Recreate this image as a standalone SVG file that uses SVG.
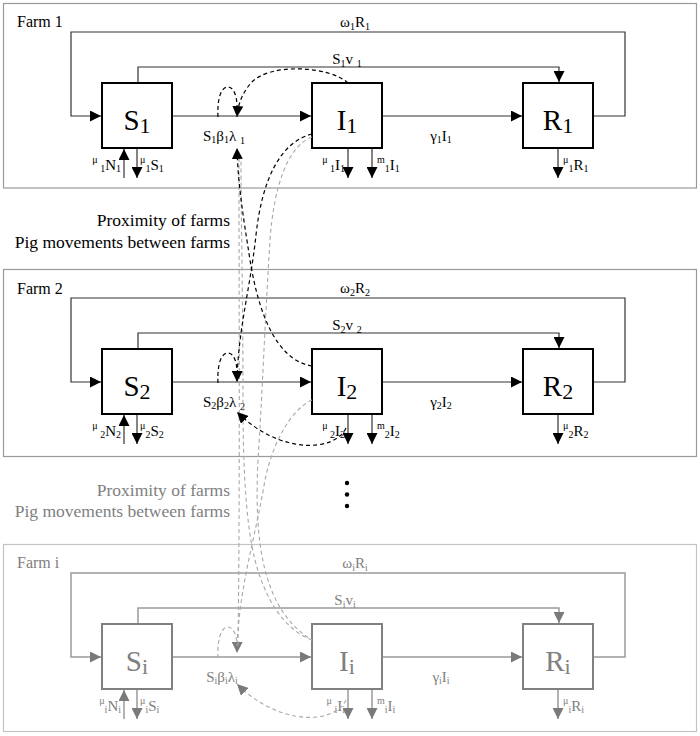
<svg xmlns="http://www.w3.org/2000/svg" width="700" height="736" viewBox="0 0 700 736">
<style>
text{font-family:"Liberation Serif","Times New Roman",serif;}
.farm{fill:none;stroke:#9a9a9a;stroke-width:1.2}
.farmi{fill:none;stroke:#c4c4c4;stroke-width:1.2}
.flbl{font-size:16px;fill:#000}
.box{fill:#fff;stroke:#000;stroke-width:2}
.boxg{fill:#fff;stroke:#808080;stroke-width:2}
.big{font-size:29px;text-anchor:middle}
.conn path,.conn line{fill:none;stroke:#333;stroke-width:1.2}
.conng path,.conng line{fill:none;stroke:#9a9a9a;stroke-width:1.5}
.lbl{font-size:15px;fill:#000}
.g{fill:#808080}
.s{font-size:10px}
.bs{font-size:22px}
.dash{fill:none;stroke:#000;stroke-width:1.2;stroke-dasharray:4,3}
.dashg{fill:none;stroke:#a8a8a8;stroke-width:1.1;stroke-dasharray:4,3}
.mid{font-size:17.5px;text-anchor:end}
</style>
<defs>
<marker id="ab" viewBox="0 0 10 10" refX="10" refY="5" markerWidth="11" markerHeight="11" markerUnits="userSpaceOnUse" orient="auto"><path d="M0,0L10,5L0,10z" fill="#000"/></marker>
<marker id="ag" viewBox="0 0 10 10" refX="10" refY="5" markerWidth="11" markerHeight="11" markerUnits="userSpaceOnUse" orient="auto"><path d="M0,0L10,5L0,10z" fill="#7a7a7a"/></marker>
</defs>
<rect width="700" height="736" fill="#fff"/>

<!-- Farm 1 -->
<g id="farm1">
<rect class="farm" x="3.5" y="3.5" width="693" height="184.5"/>
<text class="flbl" x="17" y="27">Farm 1</text>
<g id="farm1-connectors" class="conn">
<path d="M593,116H625V32H71V116H101" marker-end="url(#ab)"/>
<path d="M138,83V67H559V82" marker-end="url(#ab)"/>
<path d="M172,116H311" marker-end="url(#ab)"/>
<path d="M382,116H522" marker-end="url(#ab)"/>
<path d="M124,178V149" marker-end="url(#ab)"/>
<path d="M137,148V178" marker-end="url(#ab)"/>
<path d="M348,148V178" marker-end="url(#ab)"/>
<path d="M372,148V178" marker-end="url(#ab)"/>
<path d="M558,148V178" marker-end="url(#ab)"/>
<text class="lbl" x="355" y="27" text-anchor="middle">ω<tspan class="s" dy="3">1</tspan><tspan dy="-3">R</tspan><tspan class="s" dy="3">1</tspan></text>
<text class="lbl" x="347" y="64" text-anchor="middle">S<tspan class="s" dy="3">1</tspan><tspan dy="-3">v </tspan><tspan class="s" dy="3">1</tspan></text>
<text class="lbl" x="224" y="141" text-anchor="middle">S<tspan class="s" dy="2">1</tspan><tspan dy="-2">β</tspan><tspan class="s" dy="2">1</tspan><tspan dy="-2">λ </tspan><tspan class="s" dy="3">1</tspan></text>
<text class="lbl" x="441" y="141" text-anchor="middle">γ<tspan class="s" dy="2">1</tspan><tspan dy="-2">I</tspan><tspan class="s" dy="2">1</tspan></text>
<text class="lbl" x="121" y="170" text-anchor="end"><tspan class="s" dy="-7">μ</tspan><tspan class="s" dy="9"> 1</tspan><tspan dy="-2">N</tspan><tspan class="s" dy="2">1</tspan></text>
<text class="lbl" x="140" y="170"><tspan class="s" dy="-7">μ</tspan><tspan class="s" dy="9">1</tspan><tspan dy="-2">S</tspan><tspan class="s" dy="2">1</tspan></text>
<text class="lbl" x="345" y="170" text-anchor="end"><tspan class="s" dy="-7">μ</tspan><tspan class="s" dy="9"> 1</tspan><tspan dy="-2">I</tspan><tspan class="s" dy="2">1</tspan></text>
<text class="lbl" x="377" y="170"><tspan class="s" dy="-7">m</tspan><tspan class="s" dy="9">1</tspan><tspan dy="-2">I</tspan><tspan class="s" dy="2">1</tspan></text>
<text class="lbl" x="563" y="170"><tspan class="s" dy="-7">μ</tspan><tspan class="s" dy="9">1</tspan><tspan dy="-2">R</tspan><tspan class="s" dy="2">1</tspan></text>
</g>
<g id="S1"><rect class="box" x="102" y="83" width="70" height="65"/><text class="big" x="137" y="130">S<tspan class="bs" dy="3">1</tspan></text></g>
<g id="I1"><rect class="box" x="312" y="83" width="70" height="65"/><text class="big" x="347" y="130">I<tspan class="bs" dy="3">1</tspan></text></g>
<g id="R1"><rect class="box" x="523" y="83" width="70" height="65"/><text class="big" x="558" y="130">R<tspan class="bs" dy="3">1</tspan></text></g>
</g>

<!-- Farm 2 -->
<g id="farm2" transform="translate(0,266)">
<rect class="farm" x="3.5" y="3.5" width="693" height="187"/>
<text class="flbl" x="17" y="28">Farm 2</text>
<g id="farm2-connectors" class="conn">
<path d="M593,116H625V32H71V116H101" marker-end="url(#ab)"/>
<path d="M138,83V67H559V82" marker-end="url(#ab)"/>
<path d="M172,116H311" marker-end="url(#ab)"/>
<path d="M382,116H522" marker-end="url(#ab)"/>
<path d="M124,178V149" marker-end="url(#ab)"/>
<path d="M137,148V178" marker-end="url(#ab)"/>
<path d="M348,148V178" marker-end="url(#ab)"/>
<path d="M372,148V178" marker-end="url(#ab)"/>
<path d="M558,148V178" marker-end="url(#ab)"/>
<text class="lbl" x="355" y="27" text-anchor="middle">ω<tspan class="s" dy="3">2</tspan><tspan dy="-3">R</tspan><tspan class="s" dy="3">2</tspan></text>
<text class="lbl" x="347" y="64" text-anchor="middle">S<tspan class="s" dy="3">2</tspan><tspan dy="-3">v </tspan><tspan class="s" dy="3">2</tspan></text>
<text class="lbl" x="224" y="141" text-anchor="middle">S<tspan class="s" dy="2">2</tspan><tspan dy="-2">β</tspan><tspan class="s" dy="2">2</tspan><tspan dy="-2">λ </tspan><tspan class="s" dy="3">2</tspan></text>
<text class="lbl" x="441" y="141" text-anchor="middle">γ<tspan class="s" dy="2">2</tspan><tspan dy="-2">I</tspan><tspan class="s" dy="2">2</tspan></text>
<text class="lbl" x="121" y="170" text-anchor="end"><tspan class="s" dy="-7">μ</tspan><tspan class="s" dy="9"> 2</tspan><tspan dy="-2">N</tspan><tspan class="s" dy="2">2</tspan></text>
<text class="lbl" x="140" y="170"><tspan class="s" dy="-7">μ</tspan><tspan class="s" dy="9">2</tspan><tspan dy="-2">S</tspan><tspan class="s" dy="2">2</tspan></text>
<text class="lbl" x="345" y="170" text-anchor="end"><tspan class="s" dy="-7">μ</tspan><tspan class="s" dy="9"> 2</tspan><tspan dy="-2">I</tspan><tspan class="s" dy="2">2</tspan></text>
<text class="lbl" x="377" y="170"><tspan class="s" dy="-7">m</tspan><tspan class="s" dy="9">2</tspan><tspan dy="-2">I</tspan><tspan class="s" dy="2">2</tspan></text>
<text class="lbl" x="563" y="170"><tspan class="s" dy="-7">μ</tspan><tspan class="s" dy="9">2</tspan><tspan dy="-2">R</tspan><tspan class="s" dy="2">2</tspan></text>
</g>
<g id="S2"><rect class="box" x="102" y="83" width="70" height="65"/><text class="big" x="137" y="130">S<tspan class="bs" dy="3">2</tspan></text></g>
<g id="I2"><rect class="box" x="312" y="83" width="70" height="65"/><text class="big" x="347" y="130">I<tspan class="bs" dy="3">2</tspan></text></g>
<g id="R2"><rect class="box" x="523" y="83" width="70" height="65"/><text class="big" x="558" y="130">R<tspan class="bs" dy="3">2</tspan></text></g>
</g>

<!-- Farm i -->
<g id="farmi" transform="translate(0,541)">
<rect class="farmi" x="3.5" y="3.5" width="693" height="187"/>
<text class="flbl g" x="17" y="27">Farm i</text>
<g id="farmi-connectors" class="conng">
<path d="M593,116H625V32H71V116H101" marker-end="url(#ag)"/>
<path d="M138,83V67H559V82" marker-end="url(#ag)"/>
<path d="M172,116H311" marker-end="url(#ag)"/>
<path d="M382,116H522" marker-end="url(#ag)"/>
<path d="M124,178V149" marker-end="url(#ag)"/>
<path d="M137,148V178" marker-end="url(#ag)"/>
<path d="M348,148V178" marker-end="url(#ag)"/>
<path d="M372,148V178" marker-end="url(#ag)"/>
<path d="M558,148V178" marker-end="url(#ag)"/>
<text class="lbl g" x="355" y="27" text-anchor="middle">ω<tspan class="s" dy="3">i</tspan><tspan dy="-3">R</tspan><tspan class="s" dy="3">i</tspan></text>
<text class="lbl g" x="345" y="64" text-anchor="middle">S<tspan class="s" dy="3">i</tspan><tspan dy="-3">v</tspan><tspan class="s" dy="3">i</tspan></text>
<text class="lbl g" x="222" y="141" text-anchor="middle">S<tspan class="s" dy="2">i</tspan><tspan dy="-2">β</tspan><tspan class="s" dy="2">i</tspan><tspan dy="-2">λ</tspan><tspan class="s" dy="2">i</tspan></text>
<text class="lbl g" x="441" y="141" text-anchor="middle">γ<tspan class="s" dy="2">i</tspan><tspan dy="-2">I</tspan><tspan class="s" dy="2">i</tspan></text>
<text class="lbl g" x="121" y="170" text-anchor="end"><tspan class="s" dy="-7">μ</tspan><tspan class="s" dy="9">i</tspan><tspan dy="-2">N</tspan><tspan class="s" dy="2">i</tspan></text>
<text class="lbl g" x="140" y="170"><tspan class="s" dy="-7">μ</tspan><tspan class="s" dy="9">i</tspan><tspan dy="-2">S</tspan><tspan class="s" dy="2">i</tspan></text>
<text class="lbl g" x="345" y="170" text-anchor="end"><tspan class="s" dy="-7">μ</tspan><tspan class="s" dy="9"> i</tspan><tspan dy="-2">I</tspan><tspan class="s" dy="2">i</tspan></text>
<text class="lbl g" x="377" y="170"><tspan class="s" dy="-7">m</tspan><tspan class="s" dy="9">i</tspan><tspan dy="-2">I</tspan><tspan class="s" dy="2">i</tspan></text>
<text class="lbl g" x="563" y="170"><tspan class="s" dy="-7">μ</tspan><tspan class="s" dy="9">i</tspan><tspan dy="-2">R</tspan><tspan class="s" dy="2">i</tspan></text>
</g>
<g id="Si"><rect class="boxg" x="102" y="83" width="70" height="65"/><text class="big g" x="137" y="130">S<tspan class="bs" dy="3">i</tspan></text></g>
<g id="Ii"><rect class="boxg" x="312" y="83" width="70" height="65"/><text class="big g" x="347" y="130">I<tspan class="bs" dy="3">i</tspan></text></g>
<g id="Ri"><rect class="boxg" x="523" y="83" width="70" height="65"/><text class="big g" x="558" y="130">R<tspan class="bs" dy="3">i</tspan></text></g>
</g>

<!-- Between-farm texts -->
<g id="links-text">
<text class="mid" x="230" y="226">Proximity of farms</text>
<text class="mid" x="230" y="248">Pig movements between farms</text>
<text class="mid g" x="230" y="496">Proximity of farms</text>
<text class="mid g" x="230" y="517">Pig movements between farms</text>
<circle cx="347" cy="483" r="2.2" fill="#000"/>
<circle cx="347" cy="494.5" r="2.2" fill="#000"/>
<circle cx="347" cy="506" r="2.2" fill="#000"/>
</g>

<!-- Transmission (dashed) connectors -->
<g id="transmission-connectors">
<path class="dashg" d="M312,137 C288,146 274,185 270,240 C265,320 262,400 258,460 C254,540 262,610 312,640"/>
<path class="dashg" d="M312,400 C290,410 272,445 265,480 C255,540 238,590 237,653" marker-end="url(#ag)"/>
<path class="dashg" d="M239,158 C239,300 240,500 238,645"/>
<path class="dashg" d="M312,640 C285,630 265,600 255,560 C245,520 243,460 243,400 C243,300 241,220 241,158"/>
<path class="dashg" d="M218,658 C217,637 222,627 228,627 C234,627 237,637 237,646"/>
<path class="dashg" d="M346,700 C335,724 280,727 237,684" marker-end="url(#ag)"/>
<path class="dash" d="M348,83 C330,66 268,62 250,84 C243,93 238,103 237,117" marker-end="url(#ab)"/>
<path class="dash" d="M218,117 C217,96 222,87 228,87 C234,87 237,97 237,106"/>
<path class="dash" d="M312,366 C275,360 258,310 250,260 C243,215 238,185 237,148" marker-end="url(#ab)"/>
<path class="dash" d="M312,134 C280,142 262,180 256,235 C250,290 238,330 237,382" marker-end="url(#ab)"/>
<path class="dash" d="M218,383 C217,362 222,353 228,353 C234,353 237,363 237,372"/>
<path class="dash" d="M346,428 C335,452 280,455 237,412" marker-end="url(#ab)"/>
</g>
</svg>
